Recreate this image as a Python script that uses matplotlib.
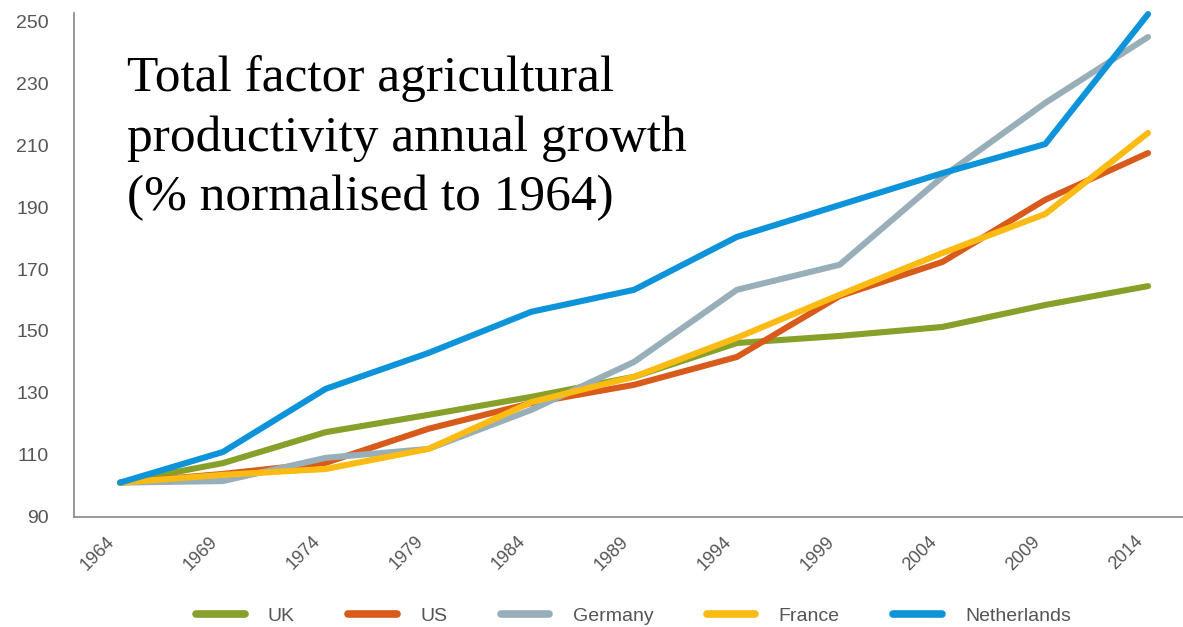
import matplotlib.pyplot as plt
import matplotlib.transforms as mtransforms

years = [1964, 1969, 1974, 1979, 1984, 1989, 1994, 1999, 2004, 2009, 2014]

uk = [101, 107.3, 117.3, 122.9, 128.7, 135.2, 146.1, 148.4, 151.3, 158.4, 164.5]
us = [101, 103.8, 107.4, 118.4, 126.7, 132.6, 141.6, 161.3, 172.3, 192.4, 207.5]
germany = [101, 101.5, 109.0, 111.9, 124.5, 140.0, 163.3, 171.4, 199.8, 223.7, 245.0]
france = [101, 103.5, 105.4, 111.9, 127.0, 135.2, 147.8, 161.7, 175.2, 187.8, 214.0]
netherlands = [101, 110.9, 131.3, 142.9, 156.2, 163.3, 180.4, 190.7, 201.0, 210.4, 252.4]

series = [
    ("UK", uk, "#86a02a"),
    ("US", us, "#d95b1c"),
    ("Germany", germany, "#98afba"),
    ("France", france, "#fbbb12"),
    ("Netherlands", netherlands, "#0d93d9"),
]

yticks = [90, 110, 130, 150, 170, 190, 210, 230, 250]

plt.rcParams["font.family"] = ["Liberation Sans", "DejaVu Sans"]

fig = plt.figure(figsize=(11.83, 6.27), dpi=100)
ax = fig.add_axes([0.0626, 0.176, 0.9374, 0.804])

for name, vals, color in series:
    ax.plot(years, vals, color=color, lw=4.4, label=name,
            solid_capstyle="round", solid_joinstyle="round", clip_on=False)

ax.set_xlim(1961.76, 2015.7)
ax.set_ylim(90, 252.9)
ax.set_xticks(years)
ax.set_yticks(yticks)
ax.set_xticklabels([str(y) for y in years], rotation=45, ha="right",
                   va="center", rotation_mode="anchor")
ax.tick_params(axis="both", length=0, labelcolor="#555555")
ax.tick_params(axis="x", pad=16, labelsize=13)
ax.tick_params(axis="y", pad=18, labelsize=14)

# nudge the rotated year labels left so they end just before each tick
shift = mtransforms.ScaledTranslation(-8 / 100, 0, fig.dpi_scale_trans)
for lbl in ax.get_xticklabels():
    lbl.set_transform(lbl.get_transform() + shift)

for side in ("top", "right"):
    ax.spines[side].set_visible(False)
for side in ("left", "bottom"):
    ax.spines[side].set_color("#888888")
    ax.spines[side].set_linewidth(1.2)

ax.text(0.048, 0.915,
        "Total factor agricultural\nproductivity annual growth\n(% normalised to 1964)",
        transform=ax.transAxes, ha="left", va="top", fontsize=37,
        family=["Liberation Serif", "DejaVu Serif"], color="black",
        linespacing=1.36)

leg = fig.legend(loc="lower center", bbox_to_anchor=(0.5355, -0.025), ncol=5,
                 frameon=False, fontsize=14, handlelength=2.5,
                 columnspacing=2.75, handletextpad=1.2)
for h in leg.get_lines():
    h.set_linewidth(5.5)
    h.set_solid_capstyle("round")
for t in leg.get_texts():
    t.set_color("#555555")

fig.savefig("out.png", dpi=100)
